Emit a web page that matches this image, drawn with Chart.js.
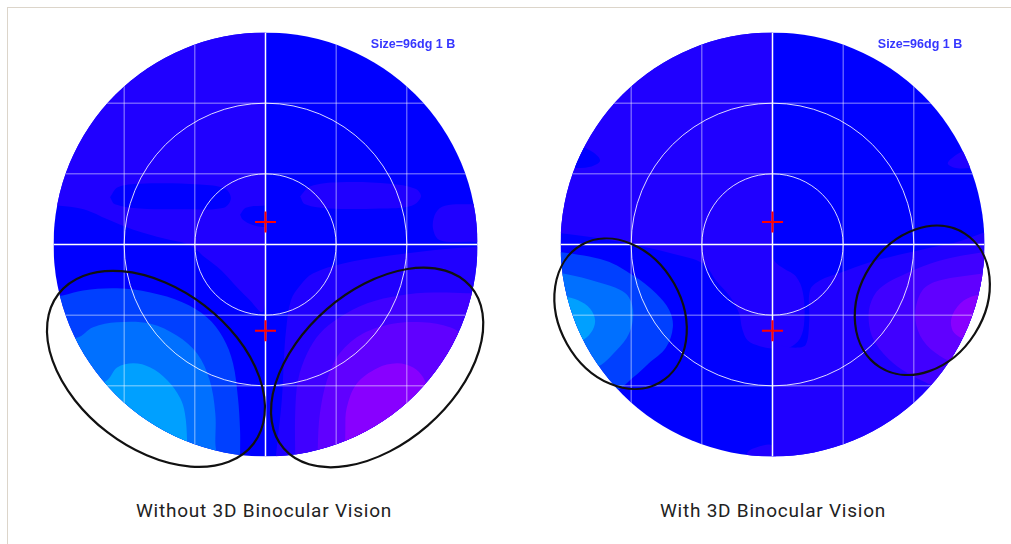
<!DOCTYPE html>
<html>
<head>
<meta charset="utf-8">
<script src="https://cdn.jsdelivr.net/npm/chart.js@4.4.1/dist/chart.umd.min.js"></script>
<style>
  html, body { margin: 0; padding: 0; background: #ffffff; width: 1011px; height: 544px; overflow: hidden; }
  .frame { position: absolute; left: 7px; top: 7px; width: 1100px; height: 700px;
           border-top: 1px solid #dcd5ca; border-left: 1px solid #dcd5ca; }
  canvas { position: absolute; top: 20px; width: 470px; height: 470px; }
  #fieldWithout { left: 33px; }
  #fieldWith { left: 540px; }
  .caption { position: absolute; top: 501px; width: 400px; text-align: center;
             font-family: Roboto, sans-serif; font-weight: 400; font-size: 19px; line-height: 19px;
             letter-spacing: 0.78px; color: #222222; }
</style>
</head>
<body>
<div class="frame"></div>
<canvas id="fieldWithout" width="470" height="470"></canvas>
<canvas id="fieldWith" width="470" height="470"></canvas>
<div class="caption" style="left:64px">Without 3D Binocular Vision</div>
<div class="caption" style="left:573px">With 3D Binocular Vision</div>
<script>
// ---- colour levels of the sensitivity map (level -> fill) ----
const LEVEL_COLORS = {
  '-3': '#00a0ff',
  '-2': '#0070ff',
  '-1': '#0040ff',
  '0':  '#0000ff',
  '1':  '#2000ff',
  '2':  '#4000ff',
  '3':  '#6000ff',
  '4':  '#8800ff'
};

// ---- field geometry, in degrees ----
const FIELD_RADIUS = 30;
const gridSteps = [-20, -10, 0, 10, 20];
const ringRadii = [10, 20];
const fixationPoints = [[0, 3.2], [0, -12.2]];
const sizeLabel = 'Size=96dg 1 B';
const sizeLabelAt = [14.9, 27.85];

// whole field (clipped to the round plot)
const fieldSquare = [[-31, -31], [31, -31], [31, 31], [-31, 31], [-31, -31]];

// ---- Without 3D binocular vision: contour boundaries [x°, y°] ----
const woUpper_1 = [[0, 34], [0, 32], [0, -6], [0, -7.9], [-0.5, -9.6], [-2.2, -7.9], [-4.0, -6.1], [-6.2, -3.7],
  [-8.6, -1.8], [-10.7, -0.1], [-14.2, 0.8], [-18.7, 2.1], [-22.7, 3.7], [-24.4, 4.5], [-26.2, 5.1],
  [-29.1, 5.5], [-34, 5.5], [-34, 20], [-20, 34], [0, 34]];
const woBlueBand_0 = [[-22.0, 6.7], [-20.9, 8.1], [-17.8, 8.6], [-9.3, 8.5], [-5.7, 7.9], [-4.9, 6.5], [-5.9, 5.2],
  [-10.7, 5.0], [-17.8, 5.1], [-21.3, 5.7], [-22.0, 6.7]];
const woBlueFix_0 = [[-3.6, 4.2], [-2.8, 5.2], [-0.5, 5.5], [2.3, 5.4], [3.6, 4.5], [2.6, 3.5], [0.4, 2.5],
  [-1.9, 2.8], [-3.2, 3.5], [-3.6, 4.2]];
const woUpperBand_1 = [[4.9, 6.8], [6.3, 8.2], [10.5, 8.8], [17.6, 8.6], [21.2, 7.9], [22.0, 6.8], [20.7, 5.5],
  [16.2, 5.1], [9.1, 5.1], [5.6, 5.7], [4.9, 6.8]];
const woRightEdge_1 = [[34, 5.8], [29, 5.7], [25.4, 5.5], [24.1, 4.5], [23.7, 2.3], [24.7, 0.6], [29, 0.4],
  [34, 0.4], [34, 5.8]];
const woLowerRight_1 = [[1.3, -34], [1.4, -31], [1.6, -28.7], [2.3, -22.1], [2.6, -16.4], [2.9, -12.2], [3.6, -7.9],
  [4.9, -5.8], [6.7, -4.1], [11.0, -2.7], [16.6, -1.7], [23.7, -0.8], [29, -0.4], [34, -0.3], [34, -34], [1.3, -34]];
const woLowerRight_2 = [[4.2, -34], [4.2, -30], [4.2, -23.9], [4.6, -19.2], [5.9, -15.4], [7.7, -12.6], [10.5, -10.3],
  [14.4, -8.3], [19.0, -7.2], [23.7, -6.8], [28.5, -6.9], [34, -7.2], [34, -34], [4.2, -34]];
const woLowerRight_3 = [[7.4, -34], [7.4, -28.7], [7.7, -23.9], [8.7, -19.2], [10.5, -15.4], [13.8, -12.6],
  [18.0, -11.2], [22.3, -11.0], [26.1, -11.7], [28.9, -13.2], [34, -15], [34, -34], [7.4, -34]];
const woLowerRight_4 = [[11.3, -34], [11.3, -25.9], [11.5, -23.1], [12.9, -19.7], [15.8, -17.5], [18.6, -16.8],
  [20.9, -17.4], [22.3, -18.8], [23.3, -21.4], [24.7, -27.7], [22, -34], [11.3, -34]];
const woLowerLeft_m1 = [[-34, -7.9], [-28.7, -7.2], [-25.8, -6.5], [-21.0, -6.2], [-16.3, -6.8], [-11.7, -8.2],
  [-8.3, -10.3], [-6.0, -13.2], [-4.6, -16.8], [-3.9, -21.7], [-3.6, -26.3], [-3.6, -30], [-3.6, -34],
  [-34, -34], [-34, -7.9]];
const woLowerLeft_m2 = [[-34, -13.6], [-26.7, -13.2], [-24.4, -11.7], [-21.0, -11.0], [-16.3, -11.2], [-12.5, -12.9],
  [-9.7, -15.4], [-7.9, -19.2], [-7.1, -23.9], [-7.1, -28], [-7.1, -34], [-34, -34], [-34, -13.6]];
const woLowerLeft_m3 = [[-26, -21], [-22.4, -19.2], [-21.0, -17.4], [-18.7, -16.8], [-16.3, -17.4], [-13.9, -19.2],
  [-12.1, -21.7], [-11.4, -23.9], [-11.1, -27.7], [-11.1, -34], [-28, -34], [-26, -21]];
// highlighted areas: [x°, y°, semi-axis a°, semi-axis b°, tilt°]
const woOutlines = [[-15.5, -17.6, 17.4, 11.3, 37.5], [15.8, -17.4, 17.5, 10.9, -41]];

// ---- With 3D binocular vision: contour boundaries [x°, y°] ----
const wUpper_1 = [[0, 34], [0, 32], [0, -1], [0, -1.6], [0.4, -2.5], [1.6, -3.4], [3.3, -4.5], [4.3, -6.8],
  [4.5, -10.8], [3.9, -13.3], [2.3, -14.6], [0, -14.7], [-1.8, -14.4], [-3.5, -13.6], [-4.3, -11.9],
  [-4.7, -9.8], [-6.0, -7.4], [-8.0, -5.1], [-9.8, -2.7], [-14.1, -1.3], [-21.1, 0.3], [-29.9, 1.6],
  [-34, 1.8], [-34, 20], [-20, 34], [0, 34]];
const wBlueEdge_0 = [[-34, 14.3], [-28.7, 14.3], [-25.8, 13.3], [-24.4, 11.9], [-25.8, 11.0], [-28.7, 10.8],
  [-34, 10.5], [-34, 14.3]];
const wRightEdge_1 = [[34, 14.7], [29.1, 14.0], [26.5, 13.0], [24.8, 11.5], [26.2, 10.8], [29.4, 11.0],
  [34, 11.2], [34, 14.7]];
const wLowerRight_1 = [[0, -34], [0, -31], [0, -15], [0, -14.2], [3.2, -14.6], [4.7, -14.2], [5.2, -10.8],
  [5.3, -6.5], [6.7, -5.1], [9.6, -4.0], [13.8, -2.5], [19.5, -1.1], [25.1, 0.1], [34, 1.4], [34, -34], [0, -34]];
const wBottom_1 = [[-3.9, -34], [-3.6, -29.6], [-2.2, -28.7], [0, -28.4], [0.5, -30], [0.5, -34], [-3.9, -34]];
const wLowerRight_2 = [[34, -0.8], [29.8, -1.1], [23.6, -2.3], [18.9, -4.1], [15.2, -6.2], [13.8, -8.6],
  [13.7, -11.5], [14.6, -14.0], [17.1, -16.8], [19.7, -18.5], [23.0, -20.0], [34, -22], [34, -0.8]];
const wLowerRight_3 = [[34, -3.4], [29.8, -4.1], [23.6, -5.1], [21.2, -6.5], [20.2, -9.8], [20.9, -12.9],
  [23.0, -15.3], [26.0, -16.8], [34, -17.8], [34, -3.4]];
const wLowerRight_4 = [[34, -6.5], [28.7, -7.2], [26.6, -8.3], [25.3, -10.5], [25.7, -12.5], [27.9, -13.6],
  [34, -14.3], [34, -6.5]];
const wLowerLeft_m1 = [[-34, -0.8], [-29.9, -1.1], [-23.6, -2.3], [-19.7, -4.4], [-16.5, -6.9], [-14.6, -9.3],
  [-14.1, -11.7], [-15.1, -14.6], [-17.5, -16.8], [-19.7, -18.8], [-22.3, -20.7], [-34, -22], [-34, -0.8]];
const wLowerLeft_m2 = [[-34, -3.7], [-29.6, -4.1], [-24.4, -5.4], [-21.6, -6.4], [-20.3, -7.5], [-19.7, -9.8],
  [-20.3, -12.6], [-22.1, -15.0], [-25.0, -17.4], [-34, -19.2], [-34, -3.7]];
const wLowerLeft_m3 = [[-34, -6.8], [-29.4, -7.4], [-27.5, -7.9], [-25.8, -9.1], [-25.1, -10.8], [-25.7, -12.5],
  [-27.2, -13.7], [-34, -15], [-34, -6.8]];
const wOutlines = [[-21.5, -9.8, 11.2, 8.7, 60.6], [21.2, -7.9, 11.2, 8.8, -57.5]];

// painting order, bottom to top: [level, boundary]
const withoutBands = [
  [0, fieldSquare], [1, woUpper_1], [1, woLowerRight_1], [1, woUpperBand_1], [1, woRightEdge_1],
  [0, woBlueBand_0], [0, woBlueFix_0],
  [-1, woLowerLeft_m1], [-2, woLowerLeft_m2], [-3, woLowerLeft_m3],
  [2, woLowerRight_2], [3, woLowerRight_3], [4, woLowerRight_4]
];
const withBands = [
  [0, fieldSquare], [1, wUpper_1], [1, wLowerRight_1], [1, wRightEdge_1], [1, wBottom_1], [0, wBlueEdge_0],
  [-1, wLowerLeft_m1], [-2, wLowerLeft_m2], [-3, wLowerLeft_m3],
  [2, wLowerRight_2], [3, wLowerRight_3], [4, wLowerRight_4]
];

function fieldPath(chart) {
  const {x, y} = chart.scales;
  const cx = x.getPixelForValue(0), cy = y.getPixelForValue(0);
  const r = x.getPixelForValue(FIELD_RADIUS) - cx;
  chart.ctx.beginPath();
  chart.ctx.arc(cx, cy, r, 0, Math.PI * 2);
}

function makeOverlay(outlines) {
  return {
    id: 'fieldOverlay',
    beforeDatasetsDraw(chart) {
      chart.ctx.save();
      fieldPath(chart);
      chart.ctx.clip();
    },
    beforeDatasetDraw(chart, args) {
      if (chart.data.datasets[args.index].label !== 'fixation') return;
      const {ctx, chartArea: a} = chart;
      const {x, y} = chart.scales;
      ctx.restore(); // colour field done
      // grid inside the round field
      ctx.save();
      fieldPath(chart);
      ctx.clip();
      const lines = gridSteps.filter(v => v !== 0).concat([0]);
      lines.forEach(v => {
        ctx.strokeStyle = v === 0 ? '#ffffff' : 'rgba(255,255,255,0.55)';
        ctx.lineWidth = v === 0 ? 1.5 : 1;
        const px = x.getPixelForValue(v), py = y.getPixelForValue(v);
        ctx.beginPath();
        ctx.moveTo(px, a.top); ctx.lineTo(px, a.bottom);
        ctx.moveTo(a.left, py); ctx.lineTo(a.right, py);
        ctx.stroke();
      });
      ctx.restore();
      // eccentricity rings
      const cx = x.getPixelForValue(0), cy = y.getPixelForValue(0);
      ctx.save();
      ctx.strokeStyle = 'rgba(255,255,255,0.85)';
      ctx.lineWidth = 1;
      ringRadii.forEach(r => {
        ctx.beginPath();
        ctx.arc(cx, cy, x.getPixelForValue(r) - cx, 0, Math.PI * 2);
        ctx.stroke();
      });
      ctx.restore();
    },
    afterDraw(chart) {
      const {ctx} = chart;
      const {x, y} = chart.scales;
      const k = x.getPixelForValue(1) - x.getPixelForValue(0);
      ctx.save();
      ctx.strokeStyle = '#111111';
      ctx.lineWidth = 2.2;
      outlines.forEach(([ex, ey, ea, eb, tilt]) => {
        ctx.beginPath();
        ctx.ellipse(x.getPixelForValue(ex), y.getPixelForValue(ey), ea * k, eb * k, tilt * Math.PI / 180, 0, Math.PI * 2);
        ctx.stroke();
      });
      ctx.fillStyle = '#3636ff';
      ctx.font = 'bold 12.5px "Liberation Sans", Arial, sans-serif';
      ctx.textAlign = 'left';
      ctx.textBaseline = 'alphabetic';
      ctx.fillText(sizeLabel, x.getPixelForValue(sizeLabelAt[0]), y.getPixelForValue(sizeLabelAt[1]));
      ctx.restore();
    }
  };
}

function buildField(canvasId, bands, outlines) {
  const datasets = bands.map(([level, pts]) => ({
    type: 'line',
    data: pts.map(([px, py]) => ({x: px, y: py})),
    fill: 'shape',
    backgroundColor: LEVEL_COLORS[String(level)],
    borderColor: 'rgba(0,0,0,0)',
    borderWidth: 0,
    pointRadius: 0,
    tension: pts === fieldSquare ? 0 : 0.35
  }));
  datasets.push({
    type: 'line',
    label: 'fixation',
    data: fixationPoints.map(([px, py]) => ({x: px, y: py})),
    showLine: false,
    fill: false,
    pointStyle: 'cross',
    pointRadius: 10.5,
    borderColor: '#ff0000',
    borderWidth: 2
  });
  datasets.forEach((d, i) => { d.order = datasets.length - i; });

  return new Chart(document.getElementById(canvasId), {
    type: 'line',
    data: {datasets},
    options: {
      responsive: false,
      animation: false,
      devicePixelRatio: 1,
      events: [],
      layout: {padding: {left: 20.5, top: 12.5, right: 25.5, bottom: 33.5}},
      elements: {line: {capBezierPoints: false}},
      scales: {
        x: {type: 'linear', min: -FIELD_RADIUS, max: FIELD_RADIUS, display: false},
        y: {type: 'linear', min: -FIELD_RADIUS, max: FIELD_RADIUS, display: false}
      },
      plugins: {legend: {display: false}, tooltip: {enabled: false}}
    },
    plugins: [makeOverlay(outlines)]
  });
}

buildField('fieldWithout', withoutBands, woOutlines);
buildField('fieldWith', withBands, wOutlines);
</script>
</body>
</html>
